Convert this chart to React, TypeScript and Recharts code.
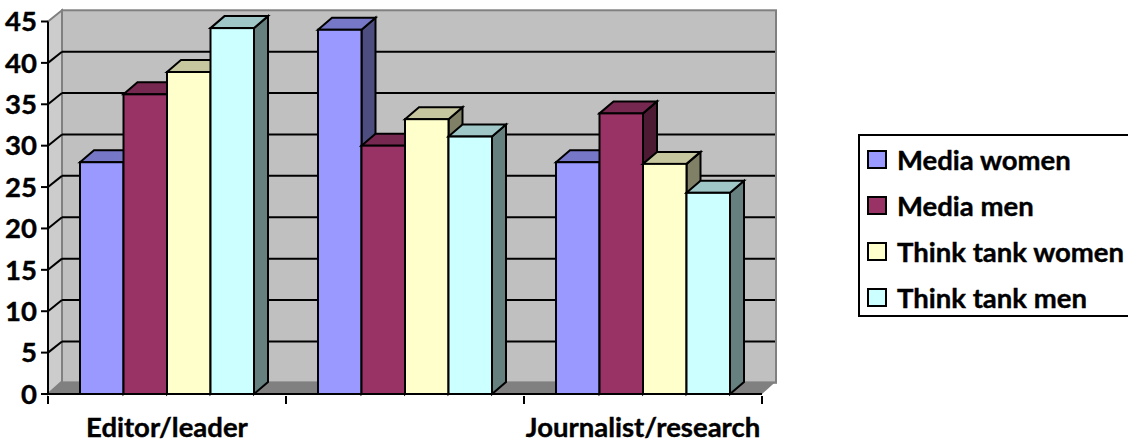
import { BarChart, Bar, XAxis, YAxis, Legend, usePlotArea } from "recharts";

const categories = ["Editor/leader", "", "Journalist/research"];
const mediaWomen = [28, 44, 28];
const mediaMen = [36.2, 30, 33.9];
const thinkTankWomen = [38.9, 33.2, 27.8];
const thinkTankMen = [44.2, 31.1, 24.3];
const yTicks = [0, 5, 10, 15, 20, 25, 30, 35, 40, 45];
const yMax = 45;

const seriesNames = ["Media women", "Media men", "Think tank women", "Think tank men"];
const seriesColors = ["#9999ff", "#993366", "#ffffcc", "#ccffff"];

const chartData = categories.map((name, i) => ({
  name,
  mediaWomen: mediaWomen[i],
  mediaMen: mediaMen[i],
  thinkTankWomen: thinkTankWomen[i],
  thinkTankMen: thinkTankMen[i],
}));

const FONT = "Lato, 'Open Sans', sans-serif";
const WALL_DX = 14;
const WALL_DY = 11.2;
const FLOOR_DY = 12.5;
const BAR_DX = 14;
const BAR_DY = 12;

const shade = (hex: string, k: number) => {
  const n = parseInt(hex.slice(1), 16);
  const c = [(n >> 16) & 255, (n >> 8) & 255, n & 255].map((v) => Math.round(v * k));
  return `rgb(${c[0]},${c[1]},${c[2]})`;
};

// back wall, side wall, floor and the gridlines on them
const Walls = () => {
  const p = usePlotArea();
  if (!p) return null;
  const left = p.x;
  const right = p.x + p.width;
  const bottom = p.y + p.height;
  const yOf = (v: number) => bottom - (p.height * v) / yMax;
  return (
    <g>
      <rect
        x={left + WALL_DX}
        y={p.y - WALL_DY}
        width={p.width}
        height={p.height}
        fill="#c0c0c0"
        stroke="#808080"
        strokeWidth={2}
      />
      <polygon
        points={`${left},${bottom} ${left + WALL_DX},${bottom - FLOOR_DY} ${left + WALL_DX},${p.y - WALL_DY} ${left},${p.y}`}
        fill="#cccccc"
        stroke="#808080"
        strokeWidth={2}
      />
      <polygon
        points={`${left},${bottom} ${left + WALL_DX},${bottom - FLOOR_DY} ${right + WALL_DX},${bottom - FLOOR_DY} ${right},${bottom}`}
        fill="#808080"
      />
      {yTicks
        .filter((v) => v > 0 && v < yMax)
        .map((v) => (
          <g key={v}>
            <line x1={left} y1={yOf(v)} x2={left + WALL_DX} y2={yOf(v) - WALL_DY} stroke="#000" strokeWidth={2} />
            <line x1={left + WALL_DX} y1={yOf(v) - WALL_DY} x2={right + WALL_DX - 1} y2={yOf(v) - WALL_DY} stroke="#000" strokeWidth={2} />
          </g>
        ))}
    </g>
  );
};

const Bar3D = (props: any) => {
  const { x, y, width: w, height: h, fill } = props;
  return (
    <g stroke="#000" strokeWidth={2} strokeLinejoin="miter">
      <polygon
        points={`${x + w},${y} ${x + w + BAR_DX},${y - BAR_DY} ${x + w + BAR_DX},${y + h - BAR_DY} ${x + w},${y + h}`}
        fill={shade(fill, 0.5)}
      />
      <polygon
        points={`${x},${y} ${x + BAR_DX},${y - BAR_DY} ${x + w + BAR_DX},${y - BAR_DY} ${x + w},${y}`}
        fill={shade(fill, 0.78)}
      />
      <rect x={x} y={y} width={w} height={h} fill={fill} />
    </g>
  );
};

// ticks sit on the category boundaries, labels in the middle
const XTick = (props: any) => {
  const { x, y, payload } = props;
  const half = 119;
  return (
    <g>
      <line x1={x - half} y1={y - 6} x2={x - half} y2={y + 2} stroke="#000" strokeWidth={2} />
      <line x1={x + half} y1={y - 6} x2={x + half} y2={y + 2} stroke="#000" strokeWidth={2} />
      <text
        x={x}
        y={y + 35}
        textAnchor="middle"
        fontFamily={FONT}
        fontWeight={700}
        fontSize={27.5}
        fill="#000"
        stroke="#000"
        strokeWidth={0.4}
      >
        {payload.value}
      </text>
    </g>
  );
};

const LegendBox = (props: any) => (
  <div
    style={{
      width: 280,
      height: 183,
      boxSizing: "border-box",
      border: "2px solid #000",
      background: "#fff",
      fontFamily: FONT,
      fontWeight: 700,
      fontSize: 27.5,
      color: "#000",
      WebkitTextStroke: "0.4px #000",
    }}
  >
    {(props.payload || []).map((item: any) => (
      <div key={item.value} style={{ height: 46, display: "flex", alignItems: "center", paddingLeft: 7, whiteSpace: "nowrap" }}>
        <span
          style={{
            width: 20,
            height: 19,
            boxSizing: "border-box",
            border: "2px solid #000",
            background: item.color,
            marginRight: 10,
            flex: "none",
          }}
        />
        {item.value}
      </div>
    ))}
  </div>
);

const seriesKeys = ["mediaWomen", "mediaMen", "thinkTankWomen", "thinkTankMen"];

export default function App() {
  return (
    <div style={{ position: "absolute", left: 0, top: 0, width: 1128, height: 443, overflow: "hidden", background: "#fff" }}>
      <BarChart
        width={1128}
        height={443}
        data={chartData}
        margin={{ top: 21.5, right: 366, bottom: 0, left: 0 }}
        barCategoryGap={32}
        barGap={0}
        barSize={43.5}
      >
        <Walls />
        <XAxis
          dataKey="name"
          height={49}
          interval={0}
          tickLine={false}
          axisLine={{ stroke: "#000", strokeWidth: 2 }}
          tick={<XTick />}
        />
        <YAxis
          width={48}
          domain={[0, yMax]}
          ticks={yTicks}
          interval={0}
          tickSize={7}
          tickLine={{ stroke: "#000", strokeWidth: 2 }}
          axisLine={{ stroke: "#000", strokeWidth: 2 }}
          tick={{ fill: "#000", stroke: "#000", strokeWidth: 0.4, fontFamily: FONT, fontWeight: 700, fontSize: 27.5 }}
          tickMargin={4}
        />
        <Legend
          layout="horizontal"
          align="center"
          verticalAlign="middle"
          itemSorter={null}
          content={<LegendBox />}
          wrapperStyle={{ position: "absolute", left: 858, top: 134, width: 280, height: 183 }}
        />
        {seriesKeys.map((key, i) => (
          <Bar
            key={key}
            dataKey={key}
            name={seriesNames[i]}
            fill={seriesColors[i]}
            shape={<Bar3D />}
            isAnimationActive={false}
          />
        ))}
      </BarChart>
    </div>
  );
}
